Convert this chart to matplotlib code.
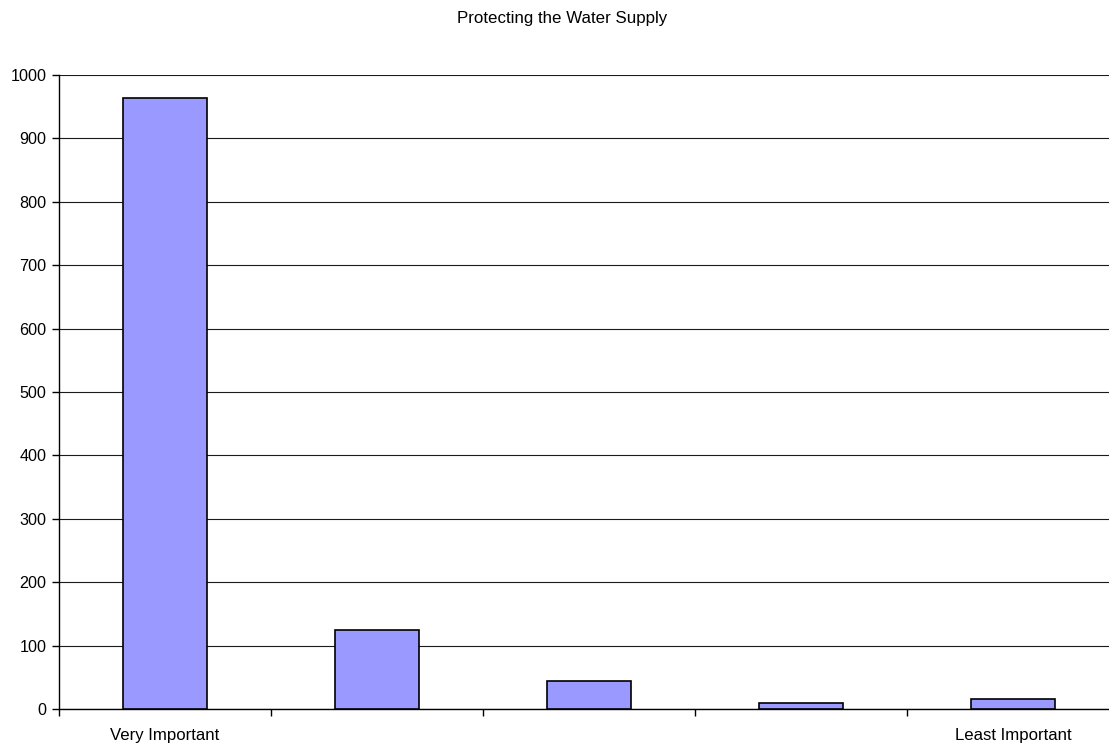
import matplotlib
matplotlib.use("Agg")
import matplotlib.pyplot as plt
import numpy as np

plt.rcParams['font.family'] = ['Liberation Sans', 'DejaVu Sans']

title = "Protecting the Water Supply"
categories = ["Very Important", "", "", "", "Least Important"]
values = [963, 124, 44, 10, 15]
yticks = [0, 100, 200, 300, 400, 500, 600, 700, 800, 900, 1000]

fig = plt.figure(figsize=(11.09, 7.43), dpi=100)
ax = fig.add_axes([59/1109, 1-709/743, 1060/1109, 634/743])

x = np.arange(len(values))
ax.bar(x, values, width=0.4, color='#9999ff', edgecolor='black', linewidth=1.2, zorder=3)

ax.set_xlim(-0.5, len(values)-0.5)
ax.set_ylim(0, 1000)
ax.set_yticks(yticks)
ax.set_yticklabels([str(v) for v in yticks], fontsize=11.6)
ax.yaxis.grid(True, color='#1a1a1a', linewidth=0.8, zorder=0)
ax.set_axisbelow(True)

# category boundary ticks (major) and labels (minor)
ax.set_xticks(np.arange(-0.5, len(values), 1.0))
ax.set_xticklabels([])
ax.set_xticks(x, minor=True)
ax.set_xticklabels(categories, minor=True, fontsize=12.1)
ax.tick_params(axis='x', which='minor', length=0, pad=14)
ax.tick_params(axis='x', which='major', length=5, width=1, direction='out')
ax.tick_params(axis='y', length=5, width=1, direction='out', pad=4)

for s in ['top', 'right']:
    ax.spines[s].set_visible(False)
for s in ['left', 'bottom']:
    ax.spines[s].set_color('black')
    ax.spines[s].set_linewidth(1)

fig.text(562/1109, 1-18/743, title, ha='center', va='center', fontsize=12.2)

fig.savefig("out.png", dpi=100)
